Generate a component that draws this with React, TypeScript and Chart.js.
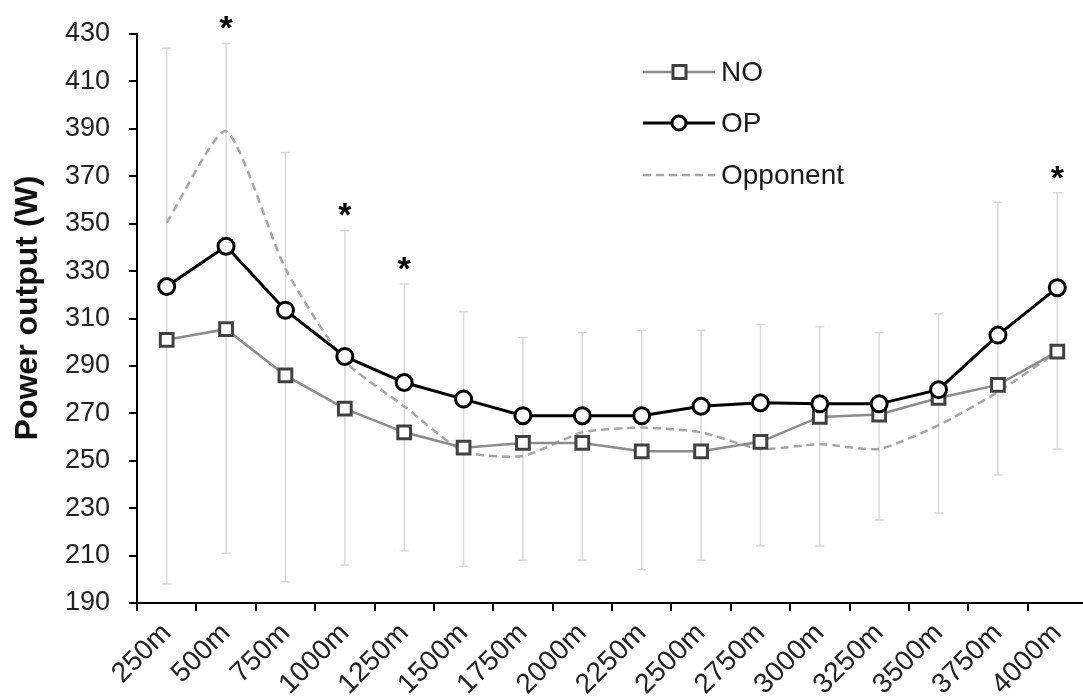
import React, { useEffect, useRef } from "react";
import { Chart, registerables } from "chart.js";

Chart.register(...registerables);

const categories = ["250m", "500m", "750m", "1000m", "1250m", "1500m", "1750m", "2000m", "2250m", "2500m", "2750m", "3000m", "3250m", "3500m", "3750m", "4000m"];
const noValues = [301, 305.5, 286, 272, 262, 255.5, 257.5, 257.5, 254, 254, 258, 268.5, 269.5, 276.5, 282, 296];
const opValues = [323.5, 340.5, 313.5, 294, 283, 276, 269, 269, 269, 273, 274.5, 274, 274, 280, 303, 323];
const opponentValues = [350.5, 389, 331, 292, 273, 254, 252, 262, 264, 262, 255, 257, 255, 265, 279, 296];
const errHigh = [424, 426, 380, 347, 324.5, 313, 302, 304, 305, 305, 307.5, 306.5, 304, 312, 359, 363];
const errLow = [198, 211, 199, 206, 212, 205.5, 208, 208, 204, 208, 214, 214, 225, 228, 244, 255];
const significant = [false, true, false, true, true, false, false, false, false, false, false, false, false, false, false, true];
const yTicks = [190, 210, 230, 250, 270, 290, 310, 330, 350, 370, 390, 410, 430];
const yTitle = "Power output (W)";

const FONT = '"Liberation Sans", Arial, sans-serif';
const CANVAS_W = 1099;

export default function App() {
  const ref = useRef<HTMLCanvasElement>(null);

  useEffect(() => {
    if (!ref.current) return;

    const errorBars = {
      id: "errorBars",
      beforeDatasetsDraw(chart: any) {
        const { ctx, scales } = chart;
        const x = scales.x;
        const y = scales.y;
        ctx.save();
        ctx.strokeStyle = "#d9d9d9";
        ctx.lineWidth = 1.5;
        categories.forEach((_, i) => {
          const px = x.getPixelForValue(i);
          const top = y.getPixelForValue(errHigh[i]);
          const bot = y.getPixelForValue(errLow[i]);
          ctx.beginPath();
          ctx.moveTo(px, top);
          ctx.lineTo(px, bot);
          ctx.moveTo(px - 4.5, top);
          ctx.lineTo(px + 4.5, top);
          ctx.moveTo(px - 4.5, bot);
          ctx.lineTo(px + 4.5, bot);
          ctx.stroke();
        });
        ctx.restore();
      },
    };

    const extras = {
      id: "extras",
      afterDraw(chart: any) {
        const { ctx, scales } = chart;
        const x = scales.x;
        const y = scales.y;
        ctx.save();
        // asterisks
        ctx.fillStyle = "#000";
        ctx.font = `bold 34px ${FONT}`;
        ctx.textAlign = "center";
        ctx.textBaseline = "alphabetic";
        significant.forEach((s, i) => {
          if (!s) return;
          const px = x.getPixelForValue(i);
          const cy = y.getPixelForValue(errHigh[i]) - 24;
          ctx.fillText("*", px, cy + 0.58 * 34);
        });
        // y title
        ctx.save();
        ctx.translate(28, 308);
        ctx.rotate(-Math.PI / 2);
        ctx.font = `bold 32px ${FONT}`;
        ctx.fillStyle = "#111";
        ctx.textAlign = "center";
        ctx.textBaseline = "middle";
        ctx.fillText(yTitle, 0, 0);
        ctx.restore();
        // legend
        const items = [
          { label: "NO", y: 72, color: "#8c8c8c", dash: [] as number[], marker: "rect" },
          { label: "OP", y: 123, color: "#000000", dash: [] as number[], marker: "circle" },
          { label: "Opponent", y: 175, color: "#a6a6a6", dash: [8, 5], marker: "none" },
        ];
        items.forEach((it) => {
          ctx.save();
          ctx.strokeStyle = it.color;
          ctx.lineWidth = it.marker === "circle" ? 3 : 2.5;
          ctx.setLineDash(it.dash);
          ctx.beginPath();
          ctx.moveTo(643, it.y);
          ctx.lineTo(715, it.y);
          ctx.stroke();
          ctx.setLineDash([]);
          if (it.marker === "rect") {
            ctx.fillStyle = "#fff";
            ctx.strokeStyle = "#404040";
            ctx.lineWidth = 3;
            ctx.fillRect(673, it.y - 6.5, 13, 13);
            ctx.strokeRect(673, it.y - 6.5, 13, 13);
          } else if (it.marker === "circle") {
            ctx.fillStyle = "#fff";
            ctx.strokeStyle = "#000";
            ctx.lineWidth = 3;
            ctx.beginPath();
            ctx.arc(679, it.y, 7, 0, Math.PI * 2);
            ctx.fill();
            ctx.stroke();
          }
          ctx.fillStyle = "#1a1a1a";
          ctx.font = `28px ${FONT}`;
          ctx.textAlign = "left";
          ctx.textBaseline = "middle";
          ctx.fillText(it.label, 721, it.y + 1);
          ctx.restore();
        });
        ctx.restore();
      },
    };

    const chart = new Chart(ref.current, {
      type: "line",
      data: {
        labels: categories,
        datasets: [
          {
            label: "OP",
            data: opValues,
            borderColor: "#000000",
            borderWidth: 3,
            pointStyle: "circle",
            pointRadius: 8,
            pointBorderWidth: 3,
            pointBackgroundColor: "#ffffff",
            pointBorderColor: "#000000",
            tension: 0,
            order: 1,
          },
          {
            label: "NO",
            data: noValues,
            borderColor: "#8c8c8c",
            borderWidth: 2.5,
            pointStyle: "rect",
            pointRadius: 9,
            pointBorderWidth: 3,
            pointBackgroundColor: "#ffffff",
            pointBorderColor: "#404040",
            tension: 0,
            order: 2,
          },
          {
            label: "Opponent",
            data: opponentValues,
            borderColor: "#a6a6a6",
            borderWidth: 2.5,
            borderDash: [8, 5],
            pointRadius: 0,
            tension: 0.2,
            order: 3,
          },
        ],
      },
      options: {
        responsive: false,
        animation: false,
        devicePixelRatio: 1,
        layout: { padding: { top: 34, right: 3, left: 0, bottom: 0 } },
        plugins: { legend: { display: false }, tooltip: { enabled: false } },
        scales: {
          x: {
            type: "category",
            offset: true,
            grid: { display: true, offset: true, drawOnChartArea: false, drawTicks: true, tickLength: 8, color: "#000", lineWidth: 2 },
            border: { display: true, color: "#000", width: 2 },
            ticks: {
              minRotation: 45,
              maxRotation: 45,
              autoSkip: false,
              padding: 6,
              color: "#222",
              font: { family: FONT, size: 28 },
            },
            afterFit(scale: any) {
              scale.height = 97;
              scale.paddingLeft = 0;
              scale.paddingRight = 0;
            },
          },
          y: {
            min: 190,
            max: 430,
            afterBuildTicks(scale: any) {
              scale.ticks = yTicks.map((v) => ({ value: v }));
            },
            grid: { display: true, drawOnChartArea: false, drawTicks: true, tickLength: 8, color: "#000", lineWidth: 2 },
            border: { display: true, color: "#000", width: 2 },
            ticks: {
              padding: 19,
              color: "#222",
              font: { family: FONT, size: 27 },
            },
            afterFit(scale: any) {
              scale.width = 137;
              scale.paddingTop = 0;
              scale.paddingBottom = 0;
            },
          },
        },
      },
      plugins: [errorBars, extras],
    });

    return () => chart.destroy();
  }, []);

  return (
    <div style={{ position: "fixed", left: 0, top: 0, width: 1083, height: 700, overflow: "hidden", background: "#fff" }}>
      <canvas ref={ref} width={CANVAS_W} height={700} style={{ width: CANVAS_W, height: 700, display: "block" }} />
    </div>
  );
}
